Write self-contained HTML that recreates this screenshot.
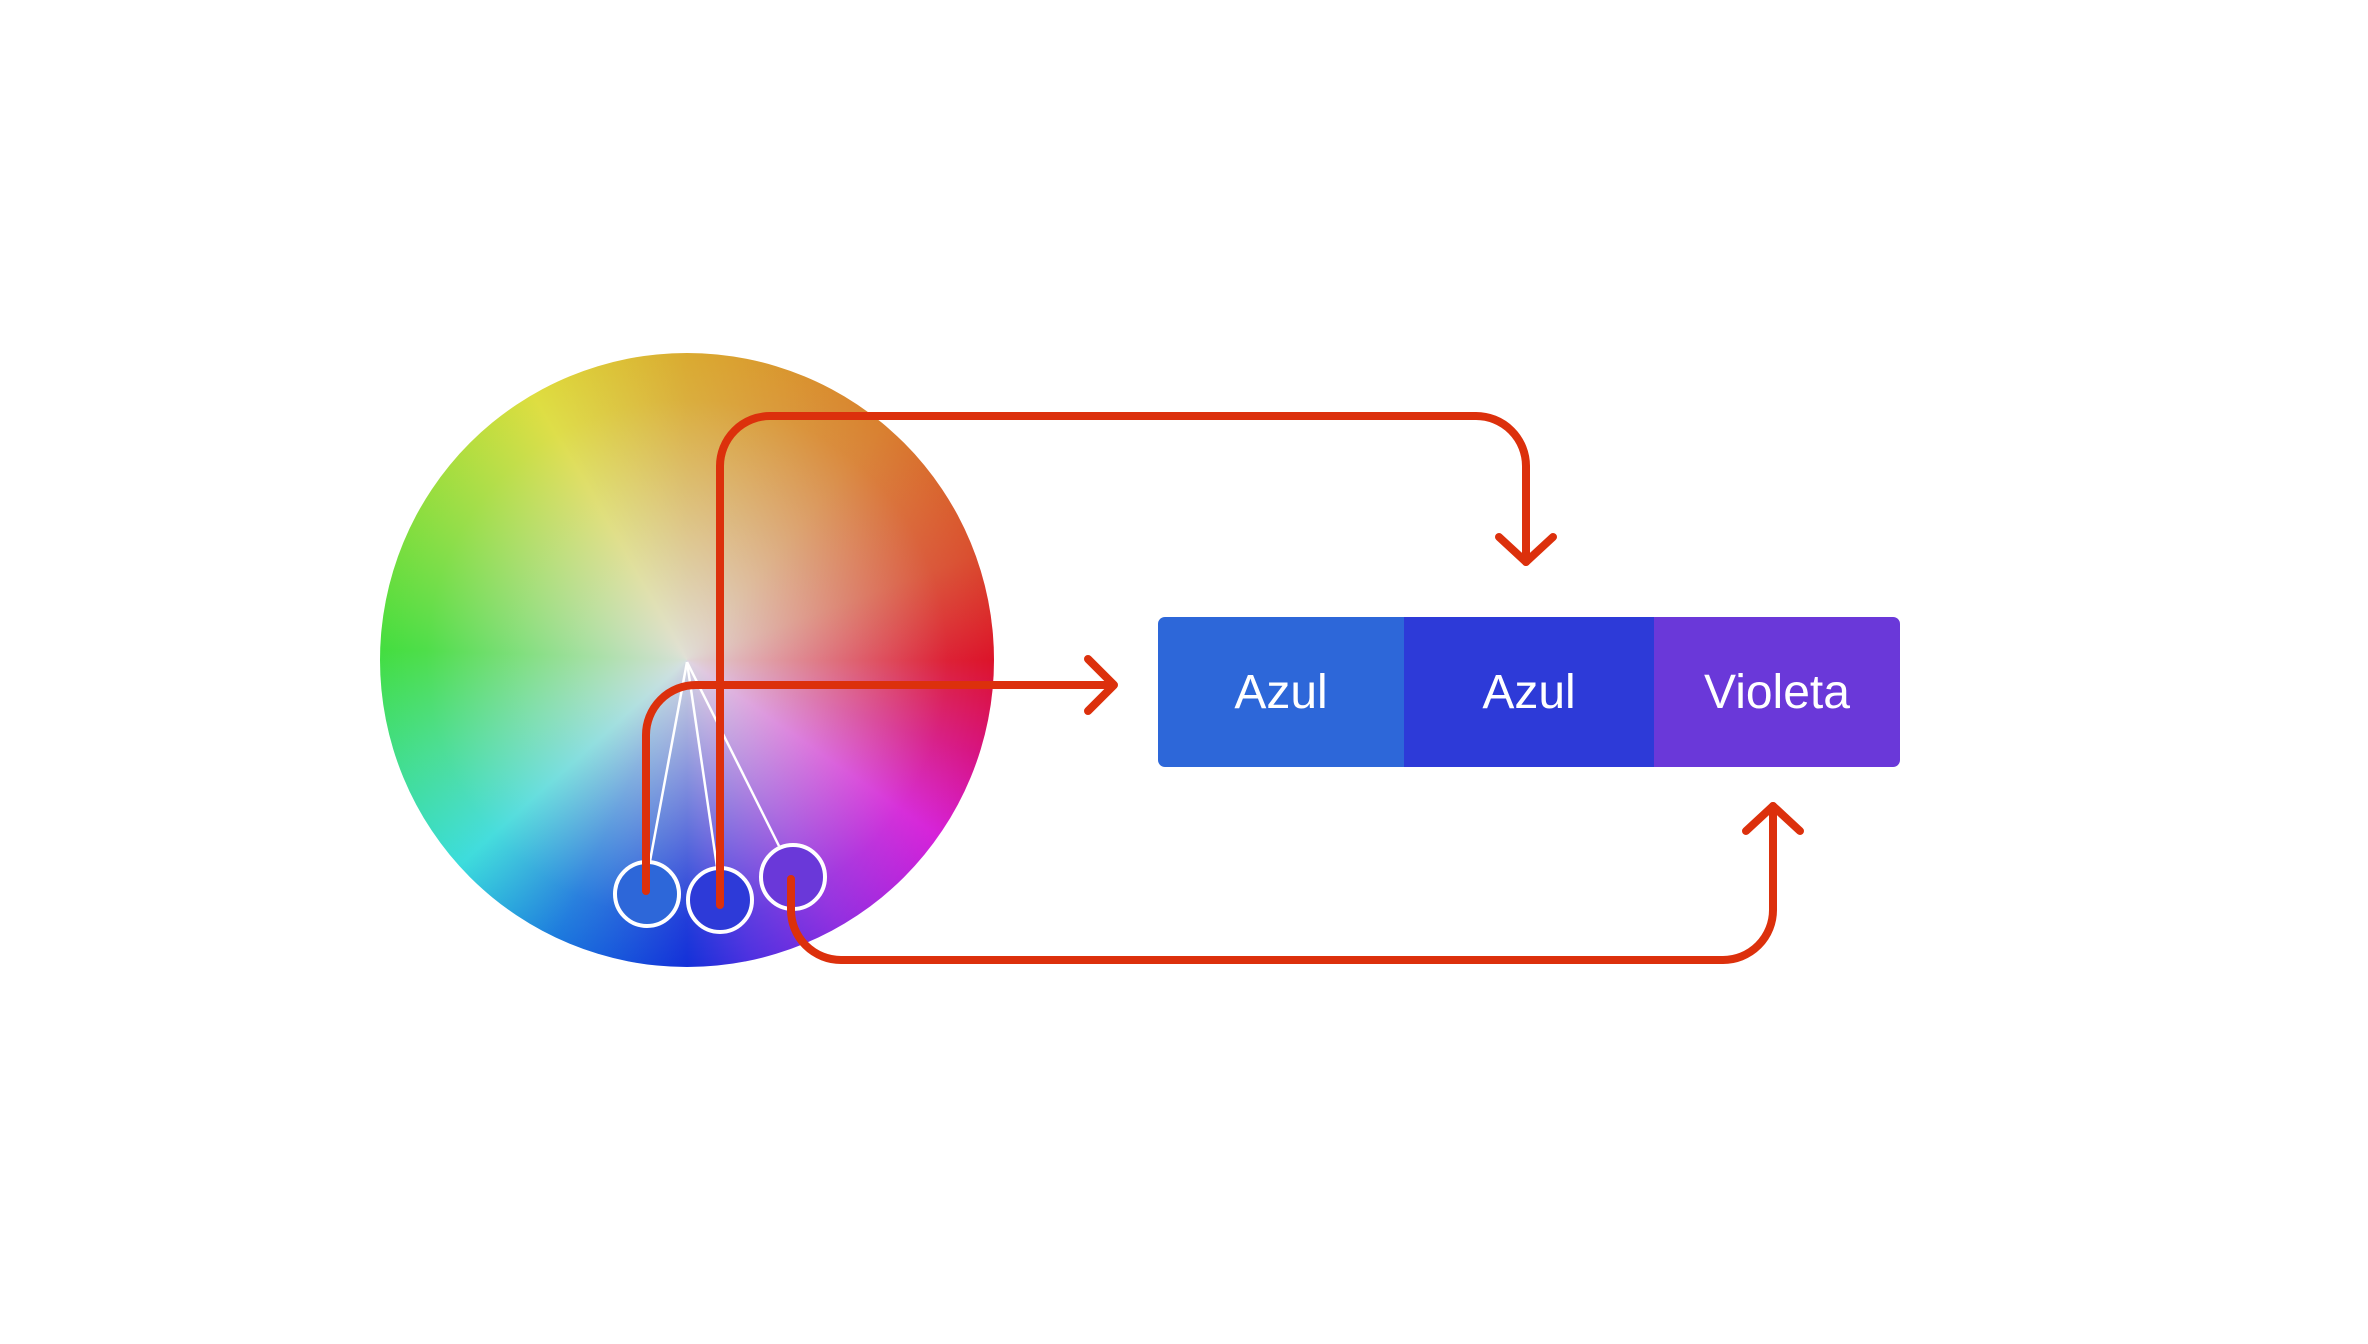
<!DOCTYPE html>
<html><head><style>
html,body{margin:0;padding:0;background:#fff;}
body{width:2368px;height:1344px;position:relative;overflow:hidden;font-family:"Liberation Sans",sans-serif;}
.wheel{position:absolute;left:380px;top:353px;width:614px;height:614px;border-radius:50%;
background:conic-gradient(from 0deg,#d9a520 0deg,#d8771f 40deg,#d9401e 70deg,#dc0018 90deg,#d6007a 108deg,#d510d8 125deg,#8a1ee0 150deg,#4020e0 168deg,#0020d8 180deg,#0a70dd 205deg,#2cdcdc 228deg,#33dd88 250deg,#35dd30 272deg,#88dd30 300deg,#dedd30 330deg,#d9a520 360deg);}
.wheel:after{content:"";position:absolute;inset:0;border-radius:50%;
background:radial-gradient(circle at 50% 50%,rgba(225,225,225,0.95) 0%,rgba(225,225,225,0.55) 30%,rgba(225,225,225,0.15) 60%,rgba(225,225,225,0) 85%);}
.bar{position:absolute;left:1158px;top:617px;width:742px;height:150px;border-radius:7px;overflow:hidden;display:flex;}
.bar div{height:100%;display:flex;align-items:center;justify-content:center;color:#fff;font-size:48px;}
</style></head><body>
<div class="wheel"></div>
<div class="bar">
<div style="width:246px;background:#2d67d9">Azul</div>
<div style="width:250px;background:#2d3ad8">Azul</div>
<div style="width:246px;background:#6a38d9">Violeta</div>
</div>
<svg width="2368" height="1344" style="position:absolute;left:0;top:0">
<g stroke="#fff" stroke-width="2.5" fill="none">
<line x1="687" y1="662" x2="650" y2="861"/>
<line x1="687" y1="662" x2="717" y2="867"/>
<line x1="687" y1="662" x2="779" y2="846"/>
</g>
<g stroke="#fff" stroke-width="4">
<circle cx="647" cy="894" r="32" fill="#2d67d9"/>
<circle cx="720" cy="900" r="32" fill="#2d3ad8"/>
<circle cx="793" cy="877" r="32" fill="#6a38d9"/>
</g>
<g stroke="#dc300c" stroke-width="8" fill="none" stroke-linecap="round" stroke-linejoin="round">
<path d="M720 905 V466 A50 50 0 0 1 770 416 H1476 A50 50 0 0 1 1526 466 V562"/>
<path d="M1499 537 L1526 562 L1553 537"/>
<path d="M646 891 V735 A50 50 0 0 1 696 685 H1112"/>
<path d="M1088 659 L1114 685 L1088 711"/>
<path d="M791 879 V910 A50 50 0 0 0 841 960 H1723 A50 50 0 0 0 1773 910 V806"/>
<path d="M1746 831 L1773 806 L1800 831"/>
</g>
</svg>
</body></html>
